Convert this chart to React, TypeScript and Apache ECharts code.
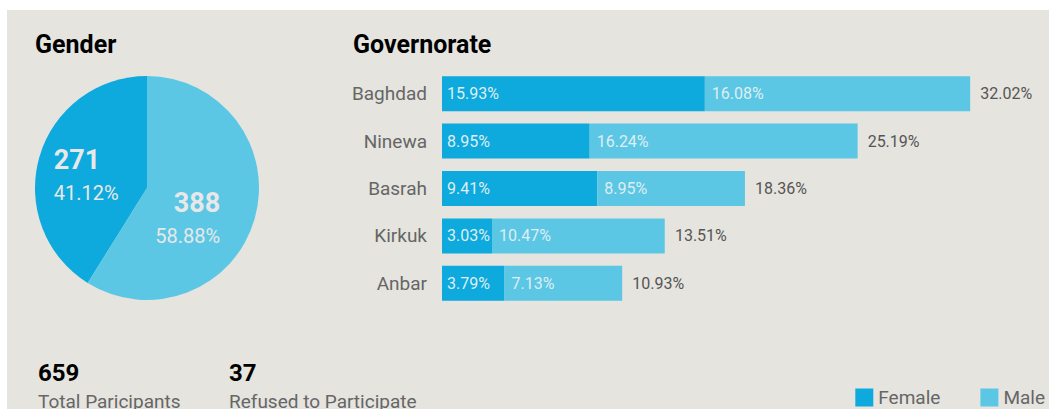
import React, { useEffect, useRef } from "react";
import * as echarts from "echarts";

const genderNames = ["Female", "Male"];
const genderCounts = [271, 388];
const genderPct = [41.12, 58.88];

const governorates = ["Baghdad", "Ninewa", "Basrah", "Kirkuk", "Anbar"];
const femalePct = [15.93, 8.95, 9.41, 3.03, 3.79];
const malePct = [16.08, 16.24, 8.95, 10.47, 7.13];
const totalPct = [32.02, 25.19, 18.36, 13.51, 10.93];

const totalParticipants = 659;
const refused = 37;

const FEMALE = "#0ea9dd";
const MALE = "#5bc7e5";
const FONT = "Roboto";

export default function App() {
  const ref = useRef<HTMLDivElement>(null);
  useEffect(() => {
    document.body.style.margin = "0";
    if (!ref.current) return;
    const chart = echarts.init(ref.current, undefined, { renderer: "svg" });
    const pieLabelPadding = [
      [9, 8, 0, 0],
      [31, 32, 0, 0],
    ];
    const pieLabelAlign = ["left", "right"];
    const option: any = {
      animation: false,
      backgroundColor: "#e5e4de",
      textStyle: { fontFamily: FONT },
      legend: {
        data: genderNames,
        right: 4,
        top: 378,
        padding: 0,
        icon: "rect",
        itemWidth: 18,
        itemHeight: 18,
        itemGap: 40,
        textStyle: { fontFamily: FONT, fontSize: 19, lineHeight: 18, color: "#666" },
      },
      graphic: [
        { type: "text", x: 28, y: 34, style: { text: "Gender", font: `bold 25px ${FONT}`, fill: "#000", verticalAlign: "middle" } },
        { type: "text", x: 346, y: 34, style: { text: "Governorate", font: `bold 25px ${FONT}`, fill: "#000", verticalAlign: "middle" } },
        { type: "text", x: 31, y: 363, style: { text: String(totalParticipants), font: `bold 24px ${FONT}`, fill: "#000", verticalAlign: "middle" } },
        { type: "text", x: 31, y: 391, style: { text: "Total Paricipants", font: `19px ${FONT}`, fill: "#666", verticalAlign: "middle" } },
        { type: "text", x: 222, y: 363, style: { text: String(refused), font: `bold 24px ${FONT}`, fill: "#000", verticalAlign: "middle" } },
        { type: "text", x: 222, y: 391, style: { text: "Refused to Participate", font: `19px ${FONT}`, fill: "#666", verticalAlign: "middle" } },
      ],
      grid: { left: 435, top: 60, height: 237, right: 13 },
      xAxis: { type: "value", min: 0, max: 36, show: false },
      yAxis: {
        type: "category",
        data: governorates,
        inverse: true,
        axisLine: { show: false },
        axisTick: { show: false },
        axisLabel: { margin: 15, fontSize: 19, color: "#666", fontFamily: FONT },
      },
      series: [
        {
          type: "pie",
          name: "Gender",
          center: [140, 178],
          radius: 112,
          startAngle: 90,
          clockwise: false,
          itemStyle: { borderWidth: 0 },
          emphasis: { disabled: true },
          data: genderNames.map((n, i) => ({
            name: n,
            value: genderCounts[i],
            itemStyle: { color: i === 0 ? FEMALE : MALE },
            label: {
              show: true,
              position: "inside",
              padding: pieLabelPadding[i],
              formatter: `{n|${genderCounts[i]}}\n{p|${genderPct[i].toFixed(2)}%}`,
              rich: {
                n: { fontSize: 27, fontWeight: "bold", color: "#e8e8e8", lineHeight: 33, fontFamily: FONT, align: pieLabelAlign[i] },
                p: { fontSize: 20, color: "#e8e8e8", lineHeight: 33, fontFamily: FONT, align: pieLabelAlign[i] },
              },
            },
          })),
        },
        {
          type: "bar",
          name: "Total",
          data: totalPct,
          barWidth: 35,
          barGap: "-100%",
          z: 1,
          itemStyle: { color: "rgba(0,0,0,0)" },
          label: {
            show: true,
            position: "right",
            distance: 10,
            fontSize: 16,
            color: "#555",
            fontFamily: FONT,
            formatter: (p: any) => `${Number(p.value).toFixed(2)}%`,
          },
          silent: true,
        },
        {
          type: "bar",
          name: "Female",
          stack: "g",
          data: femalePct,
          barWidth: 35,
          z: 2,
          itemStyle: { color: FEMALE },
          label: {
            show: true,
            position: "insideLeft",
            distance: 5,
            fontSize: 16,
            color: "#dfeef2",
            fontFamily: FONT,
            formatter: (p: any) => `${Number(p.value).toFixed(2)}%`,
          },
        },
        {
          type: "bar",
          name: "Male",
          stack: "g",
          data: malePct,
          barWidth: 35,
          z: 2,
          itemStyle: { color: MALE },
          label: {
            show: true,
            position: "insideLeft",
            distance: 7,
            fontSize: 16,
            color: "#dfeef2",
            fontFamily: FONT,
            formatter: (p: any) => `${Number(p.value).toFixed(2)}%`,
          },
        },
      ],
    };
    chart.setOption(option);
    return () => chart.dispose();
  }, []);
  return (
    <div
      ref={ref}
      style={{ position: "absolute", left: 7, top: 10, width: 1042, height: 399 }}
    />
  );
}
